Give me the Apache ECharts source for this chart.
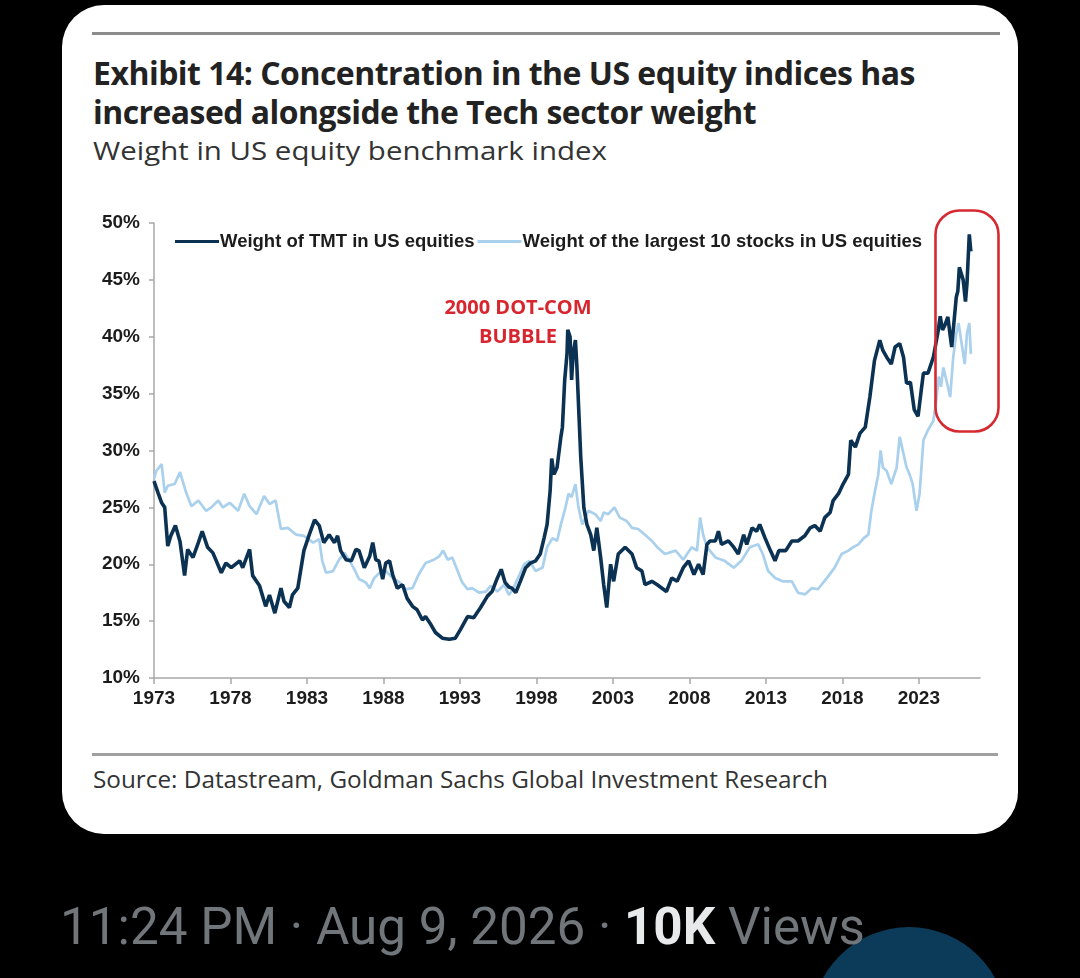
<!DOCTYPE html>
<html>
<head>
<meta charset="utf-8">
<script src="https://cdn.jsdelivr.net/npm/echarts@6/dist/echarts.min.js"></script>
<style>
  html,body{margin:0;padding:0;background:#000;width:1080px;height:978px;overflow:hidden;}
  .abs{position:absolute;}
  .fit{white-space:nowrap;display:inline-block;transform-origin:0 0;}
  .title{font-family:"Open Sans",sans-serif;font-weight:700;font-size:32px;line-height:36px;color:#222;letter-spacing:-0.5px;}
  .sub{font-family:"Open Sans",sans-serif;font-weight:400;font-size:26px;line-height:30px;color:#333;}
  .src{font-family:"Open Sans",sans-serif;font-weight:400;font-size:23px;line-height:28px;color:#333;}
  .meta{font-family:Roboto,sans-serif;font-size:52px;line-height:60px;color:#71767b;}
  .meta b{color:#e7e9ea;font-weight:700;}
</style>
</head>
<body>
<div class="abs" style="left:62px;top:5px;width:956px;height:829px;background:#fff;border-radius:42px;"></div>
<div class="abs" style="left:92px;top:32px;width:908px;height:3px;background:#8c8c8c;"></div>
<div class="abs fit title" data-w="822" style="left:93px;top:55px;">Exhibit 14: Concentration in the US equity indices has</div>
<div class="abs fit title" data-w="663" style="left:93px;top:94px;">increased alongside the Tech sector weight</div>
<div class="abs fit sub" data-w="514" style="left:93px;top:135px;">Weight in US equity benchmark index</div>
<div class="abs" style="left:92px;top:753px;width:906px;height:2.5px;background:#a0a0a0;"></div>
<div class="abs fit src" data-w="735" style="left:93px;top:765px;">Source: Datastream, Goldman Sachs Global Investment Research</div>
<div class="abs" style="left:811px;top:927px;width:196px;height:196px;border-radius:50%;background:#0c3b5a;"></div>
<div class="abs fit meta" data-w="805" style="left:60px;top:897px;">11:24 PM · Aug 9, 2026 · <b>10K</b> Views</div>
<div id="chart" class="abs" style="left:0;top:0;width:1080px;height:978px;"></div>
<script>
// ---- data ----
const tmtName = 'Weight of TMT in US equities';
const top10Name = 'Weight of the largest 10 stocks in US equities';
const tickYears = [1973,1978,1983,1988,1993,1998,2003,2008,2013,2018,2023];
const yTicks = [10,15,20,25,30,35,40,45,50];

const tmtSeries = [
[1973.0,27.3],[1973.26,26.3],[1973.5,25.4],[1973.7,25.0],[1973.9,21.6],[1974.1,22.5],[1974.4,23.4],[1974.7,22.0],
[1975.0,19.0],[1975.2,21.3],[1975.55,20.6],[1975.9,21.9],[1976.15,22.9],[1976.5,21.5],[1976.85,21.0],[1977.4,19.25],
[1977.7,20.1],[1978.05,19.7],[1978.6,20.3],[1978.8,19.7],[1979.25,21.3],[1979.45,19.0],[1979.9,18.1],[1980.3,16.3],
[1980.55,17.3],[1980.9,15.7],[1981.3,17.9],[1981.5,16.75],[1981.85,16.2],[1982.05,17.3],[1982.4,17.9],[1982.8,21.2],
[1983.15,22.6],[1983.5,23.9],[1983.8,23.4],[1984.1,21.9],[1984.45,22.6],[1984.8,21.9],[1985.0,22.5],[1985.2,21.2],
[1985.55,20.4],[1985.9,20.3],[1986.2,21.3],[1986.4,21.2],[1986.75,19.7],[1987.1,20.7],[1987.3,21.9],[1987.5,20.4],
[1987.7,20.3],[1987.95,18.7],[1988.15,20.1],[1988.4,20.3],[1988.6,19.1],[1988.9,17.9],[1989.25,18.2],[1989.55,17.0],
[1989.9,16.3],[1990.2,16.0],[1990.55,15.1],[1990.75,15.4],[1991.1,14.7],[1991.4,14.0],[1991.85,13.5],[1992.3,13.4],
[1992.7,13.5],[1993.05,14.3],[1993.5,15.4],[1993.9,15.3],[1994.35,16.2],[1994.8,17.2],[1995.1,17.6],[1995.45,18.8],
[1995.7,19.55],[1995.95,18.4],[1996.2,18.0],[1996.4,17.9],[1996.65,17.5],[1996.95,18.5],[1997.3,19.7],[1997.6,20.1],
[1997.95,20.3],[1998.25,20.9],[1998.5,22.3],[1998.7,23.5],[1998.9,26.5],[1999.0,29.3],[1999.15,27.9],[1999.35,28.5],
[1999.6,31.2],[1999.7,32.05],[1999.85,36.2],[2000.0,38.5],[2000.05,40.6],[2000.2,40.0],[2000.3,36.2],[2000.4,38.5],
[2000.55,39.7],[2000.65,37.3],[2000.9,29.4],[2001.1,25.0],[2001.3,23.5],[2001.55,22.6],[2001.75,21.2],[2001.95,23.2],
[2002.2,20.6],[2002.4,18.2],[2002.6,16.2],[2002.85,20.0],[2003.05,18.5],[2003.35,20.9],[2003.8,21.5],[2004.25,20.9],
[2004.55,19.7],[2004.9,19.4],[2005.1,18.2],[2005.55,18.5],[2005.9,18.2],[2006.5,17.6],[2006.85,18.8],[2007.2,18.5],
[2007.6,19.7],[2007.95,20.3],[2008.3,19.1],[2008.6,20.0],[2008.9,19.1],[2009.15,21.75],[2009.35,22.05],[2009.7,22.05],
[2009.9,22.9],[2010.1,21.75],[2010.55,22.05],[2010.9,21.5],[2011.2,20.9],[2011.55,22.6],[2011.75,21.75],[2012.1,23.2],
[2012.4,22.9],[2012.6,23.5],[2012.95,22.3],[2013.3,21.2],[2013.6,20.3],[2013.85,21.2],[2014.3,21.2],[2014.7,22.05],
[2015.1,22.05],[2015.55,22.5],[2015.9,23.2],[2016.2,23.4],[2016.55,22.9],[2016.85,24.1],[2017.2,24.55],[2017.4,25.6],
[2017.75,26.2],[2018.05,27.05],[2018.4,27.9],[2018.55,30.9],[2018.85,30.3],[2019.15,31.5],[2019.5,32.05],[2019.8,34.7],
[2020.1,37.9],[2020.45,39.7],[2020.65,38.8],[2020.9,38.2],[2021.2,37.6],[2021.45,39.1],[2021.75,39.4],[2022.0,38.2],
[2022.2,35.9],[2022.45,36.0],[2022.7,33.6],[2022.95,33.0],[2023.15,35.2],[2023.3,36.8],[2023.6,36.8],[2023.95,38.2],
[2024.25,40.4],[2024.4,41.8],[2024.55,40.6],[2024.7,41.0],[2024.9,41.75],[2025.05,40.1],[2025.15,39.1],[2025.45,43.5],
[2025.55,44.0],[2025.65,46.1],[2025.9,45.0],[2026.05,43.1],[2026.15,44.7],[2026.3,49.0],[2026.4,47.5]
];

const top10Series = [
[1973.0,27.5],[1973.15,28.2],[1973.5,28.8],[1973.7,26.3],[1973.9,26.9],[1974.35,27.05],[1974.7,28.1],[1975.1,26.3],
[1975.45,25.1],[1975.9,25.6],[1976.4,24.7],[1976.75,25.0],[1977.2,25.6],[1977.5,25.0],[1977.95,25.4],[1978.5,24.7],
[1978.9,26.2],[1979.25,25.1],[1979.7,24.4],[1980.2,26.0],[1980.55,25.3],[1980.95,25.6],[1981.3,23.1],[1981.75,23.2],
[1982.3,22.6],[1982.8,22.5],[1983.4,21.9],[1983.8,22.2],[1984.0,20.3],[1984.25,19.25],[1984.7,19.4],[1985.1,20.4],
[1985.45,21.0],[1985.75,20.4],[1986.1,19.55],[1986.4,18.7],[1986.85,18.4],[1987.1,17.9],[1987.4,18.8],[1987.75,19.25],
[1988.15,19.4],[1988.6,18.8],[1989.05,18.4],[1989.45,17.8],[1989.9,17.9],[1990.3,19.1],[1990.75,20.1],[1991.3,20.4],
[1991.65,20.7],[1991.9,21.2],[1992.2,20.4],[1992.5,20.6],[1992.85,19.4],[1993.15,18.4],[1993.5,17.8],[1993.8,17.9],
[1994.25,17.5],[1994.7,17.6],[1995.0,18.1],[1995.45,17.6],[1995.9,18.2],[1996.2,17.3],[1996.5,17.9],[1996.9,19.1],
[1997.2,20.0],[1997.55,20.3],[1997.95,19.4],[1998.4,19.7],[1998.7,21.5],[1999.05,22.3],[1999.35,22.05],[1999.6,23.5],
[1999.9,25.0],[2000.1,26.2],[2000.3,25.9],[2000.55,27.05],[2000.75,25.0],[2001.0,23.5],[2001.2,24.1],[2001.4,24.7],
[2001.85,24.4],[2002.2,23.8],[2002.4,24.55],[2002.7,24.4],[2003.1,25.0],[2003.45,24.1],[2003.9,23.8],[2004.25,23.2],
[2004.65,23.1],[2005.1,22.6],[2005.55,22.05],[2005.9,21.5],[2006.4,20.9],[2007.1,21.2],[2007.6,20.4],[2008.15,21.5],
[2008.5,21.2],[2008.7,24.1],[2008.9,22.6],[2009.15,21.5],[2009.7,20.6],[2010.3,20.3],[2010.9,19.7],[2011.4,20.3],
[2011.95,21.5],[2012.5,21.75],[2012.8,20.9],[2013.15,19.4],[2013.6,18.8],[2014.1,18.5],[2014.7,18.5],[2015.1,17.5],
[2015.55,17.35],[2016.0,17.9],[2016.4,17.8],[2017.0,18.8],[2017.5,19.7],[2017.95,20.9],[2018.4,21.2],[2018.7,21.5],
[2019.05,21.75],[2019.4,22.3],[2019.7,22.6],[2019.9,24.7],[2020.1,26.2],[2020.35,27.9],[2020.5,30.0],[2020.65,28.5],
[2020.9,28.2],[2021.2,27.05],[2021.55,28.5],[2021.75,31.2],[2022.0,29.7],[2022.2,28.5],[2022.4,27.9],[2022.6,27.05],
[2022.85,24.7],[2023.05,26.2],[2023.3,30.9],[2023.6,31.8],[2023.95,32.6],[2024.15,34.5],[2024.3,36.5],[2024.45,35.6],
[2024.6,37.3],[2024.8,36.2],[2025.05,34.7],[2025.25,38.2],[2025.45,40.3],[2025.6,41.2],[2025.8,39.4],[2026.0,37.6],
[2026.15,40.3],[2026.3,41.2],[2026.4,38.5]
];

// fit text widths
document.querySelectorAll('.fit').forEach(el => {
  const w = el.getBoundingClientRect().width;
  const t = +el.dataset.w;
  el.style.transform = 'scaleX(' + (t / w) + ')';
});

const chart = echarts.init(document.getElementById('chart'), null, {renderer: 'canvas'});
const lblFont = {color: '#1c1c1c', fontWeight: 'bold', fontSize: 19, fontFamily: '"Liberation Sans", Arial, sans-serif'};
chart.setOption({
  animation: false,
  backgroundColor: 'transparent',
  grid: {left: 154, top: 223, right: 100, bottom: 300, containLabel: false},
  legend: {
    left: 175, top: 232, padding: 0, itemGap: 3, itemWidth: 44, itemHeight: 3, icon: 'rect',
    data: [tmtName, top10Name],
    textStyle: Object.assign({}, lblFont, {fontSize: 18.5, padding: [0, 0, 0, -4]})
  },
  xAxis: {
    type: 'value', min: 1973, max: 2027,
    axisLine: {lineStyle: {color: '#a8a8a8', width: 1.5}},
    axisTick: {show: true, customValues: tickYears, length: 6, lineStyle: {color: '#a8a8a8', width: 1.5}},
    axisLabel: Object.assign({customValues: tickYears, margin: 11, formatter: v => String(v)}, lblFont),
    splitLine: {show: false}
  },
  yAxis: {
    type: 'value', min: 10, max: 50, interval: 5,
    axisLine: {show: true, lineStyle: {color: '#a8a8a8', width: 1.5}},
    axisTick: {show: true, length: 5, lineStyle: {color: '#a8a8a8', width: 1.5}},
    axisLabel: Object.assign({margin: 14, formatter: v => v + '%'}, lblFont),
    splitLine: {show: false}
  },
  series: [
    {name: top10Name, type: 'line', data: top10Series, symbol: 'none', showSymbol: false, z: 2,
     lineStyle: {color: '#a9d0ec', width: 2.7}, itemStyle: {color: '#a9d0ec'}},
    {name: tmtName, type: 'line', data: tmtSeries, symbol: 'none', showSymbol: false, z: 3,
     lineStyle: {color: '#0b3253', width: 3.6}, itemStyle: {color: '#0b3253'}}
  ],
  graphic: [
    {type: 'text', left: 442, top: 294, z: 10,
     style: {text: '2000 DOT-COM\nBUBBLE', align: 'center', fill: '#d7262e', lineHeight: 29,
             font: 'bold 20px "Open Sans", sans-serif', textAlign: 'center', width: 152}},
    {type: 'rect', left: 933, top: 208, z: 10,
     shape: {width: 63, height: 221, r: 24},
     style: {fill: 'none', stroke: '#d42a30', lineWidth: 2.6}}
  ]
});
</script>
</body>
</html>
